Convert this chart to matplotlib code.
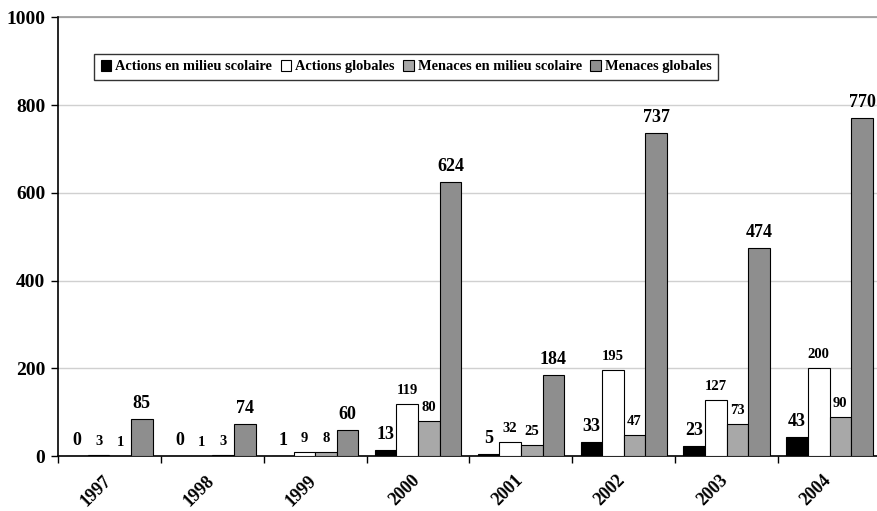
import numpy as np
import matplotlib.pyplot as plt
from matplotlib.transforms import ScaledTranslation

years = ['1997', '1998', '1999', '2000', '2001', '2002', '2003', '2004']
actions_scolaire = [0, 0, 1, 13, 5, 33, 23, 43]
actions_globales = [3, 1, 9, 119, 32, 195, 127, 200]
menaces_scolaire = [1, 3, 8, 80, 25, 47, 73, 90]
menaces_globales = [85, 74, 60, 624, 184, 737, 474, 770]

series = [
    ('Actions en milieu scolaire', actions_scolaire, '#000000', 13),
    ('Actions globales', actions_globales, '#ffffff', 10.5),
    ('Menaces en milieu scolaire', menaces_scolaire, '#a8a8a8', 10.5),
    ('Menaces globales', menaces_globales, '#8e8e8e', 13),
]

plt.rcParams['font.family'] = ['Liberation Serif', 'DejaVu Serif']
plt.rcParams['font.weight'] = 'bold'

fig = plt.figure(figsize=(8.78, 5.11), dpi=100)
ax = fig.add_axes([58 / 878, 55 / 511, 823 / 878, 438.5 / 511])

x = np.arange(len(years))
width = 0.21
offsets = (np.arange(4) - 1.5) * width

for (name, vals, color, fs), off in zip(series, offsets):
    bars = ax.bar(x + off, vals, width, color=color, edgecolor='black',
                  linewidth=0.8, label=name, zorder=3)
    for b, v in zip(bars, vals):
        ax.text(b.get_x() + b.get_width() / 2, v + 16, str(v),
                ha='center', va='bottom', fontsize=fs, fontweight='bold')

ax.set_xlim(-0.5, len(years) - 0.5)
ax.set_ylim(0, 1000)
ax.set_yticks(range(0, 1001, 200))
ax.tick_params(axis='y', labelsize=14, length=5, width=1, pad=4)
ax.yaxis.grid(True, color='#d0d0d0', linewidth=1)
ax.axhline(1000, color='#999999', linewidth=1.2, zorder=1, clip_on=False)
ax.set_axisbelow(True)

# year labels at the group centres, ticks on the group boundaries
ax.set_xticks(x)
ax.set_xticklabels(years, rotation=45, ha='right', rotation_mode='anchor',
                   fontsize=13)
ax.tick_params(axis='x', which='major', length=0, pad=11.5)
shift = ScaledTranslation(-7 / 100, 0, fig.dpi_scale_trans)
for lbl in ax.get_xticklabels():
    lbl.set_transform(lbl.get_transform() + shift)
ax.set_xticks(np.arange(len(years) + 1) - 0.5, minor=True)
ax.tick_params(axis='x', which='minor', length=5, width=1)

for side in ['top', 'right']:
    ax.spines[side].set_visible(False)
ax.spines['left'].set_linewidth(1.2)
ax.spines['bottom'].set_linewidth(1.2)

leg = ax.legend(ncol=4, loc='upper left', bbox_to_anchor=(0.035, 0.934),
                fontsize=10.4, frameon=True, fancybox=False, edgecolor='black',
                handlelength=0.75, handleheight=0.75, handletextpad=0.25,
                columnspacing=0.6, borderpad=0.45)
leg.get_frame().set_linewidth(1)

fig.savefig('out.png', dpi=100)
